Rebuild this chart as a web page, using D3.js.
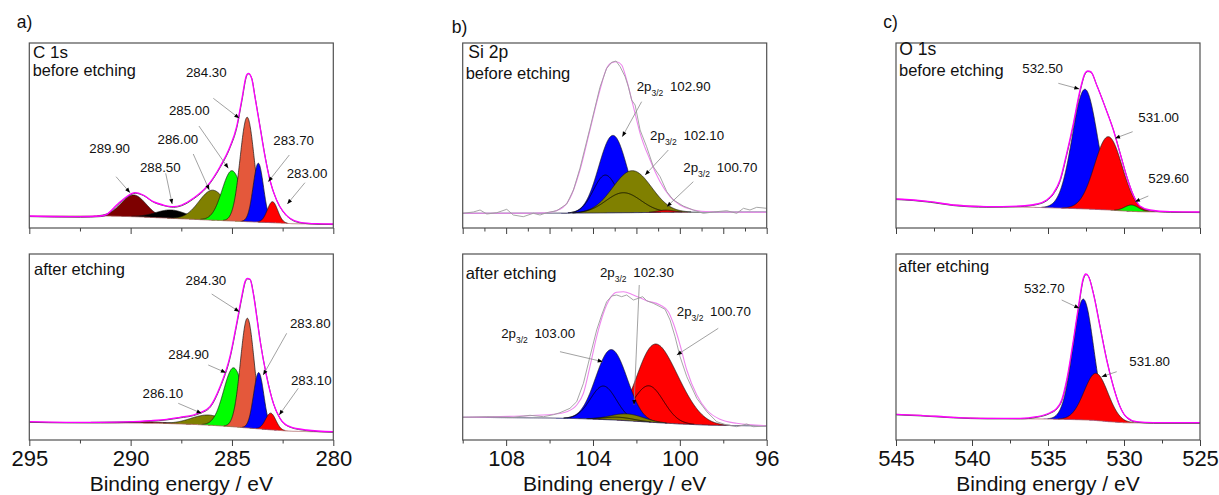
<!DOCTYPE html>
<html><head><meta charset="utf-8">
<script src="https://cdn.jsdelivr.net/npm/d3@7"></script>
<style>
html,body{margin:0;padding:0;background:#fff;}
svg{display:block;}
</style></head><body>
<svg id="chart" width="1219" height="495"></svg>
<script>
// ======================= DATA =======================
// ---- C 1s, before etching (binding energy eV, intensity a.u.)
const c1sBeforeEnvelope = [[295.0,12.0],[292.5,11.3],[291.51,12.0],[291.18,13.7],[290.69,23.0],[290.20,31.3],[289.79,35.3],[289.38,33.0],[288.88,26.3],[288.39,23.0],[287.89,21.3],[287.48,23.0],[286.91,29.7],[286.25,41.3],[285.59,61.3],[285.10,81.3],[284.77,101.3],[284.52,128.0],[284.28,153.0],[284.19,154.7],[284.03,149.7],[283.87,131.3],[283.62,101.3],[283.37,71.3],[283.13,48.0],[282.80,28.0],[282.47,16.3],[282.14,9.7],[281.64,5.7],[280.82,4.3],[280.0,4.0]];
const c1sBeforeBackground = [[295,12.0],[291.2,12.0],[289.8,11.3],[288.0,9.7],[286.5,8.3],[285.0,7.0],[284.2,6.3],[283.0,5.3],[282.0,4.3],[280.0,4.0]];
const c1sBeforeCenters = [289.85, 288.0, 285.95, 285.0, 284.25, 283.7, 283.0];
const c1sBeforeAmps    = [21.7, 8.3, 30.0, 50.3, 104.4, 58.9, 21.0];
const c1sBeforeFwhm    = [1.45, 1.8, 1.6, 1.15, 0.82, 0.6, 0.6];
const c1sBeforeLabels  = ["289.90","288.50","286.00","285.00","284.30","283.70","283.00"];

// ---- C 1s, after etching
const c1sAfterEnvelope = [[295.0,18.3],[293.16,17.7],[291.51,17.7],[289.87,18.3],[289.05,19.3],[288.22,20.7],[287.57,22.7],[286.91,25.0],[286.58,27.3],[286.09,33.3],[285.59,53.3],[285.10,83.3],[284.77,116.7],[284.52,143.3],[284.36,158.3],[284.24,161.7],[284.11,160.7],[283.95,146.7],[283.78,123.3],[283.62,100.0],[283.29,63.3],[282.96,36.7],[282.63,21.7],[282.14,13.3],[281.32,10.0],[280.0,8.3]];
const c1sAfterBackground = [[295,17.7],[291.5,17.3],[288.5,16.7],[287,15.7],[286,14.7],[285,13.3],[284.2,12.0],[283.6,11.0],[283.0,10.0],[282.0,8.7],[281,8.3],[280,8.0]];
const c1sAfterCenters = [289.5, 286.15, 284.92, 284.24, 283.68, 283.09];
const c1sAfterAmps    = [1.2, 10.1, 59.0, 109.7, 56.3, 16.7];
const c1sAfterFwhm    = [3.5, 2.0, 1.15, 0.8, 0.6, 0.6];
const c1sAfterLabels  = ["286.10","284.90","284.30","283.80","283.10"];

// ---- Si 2p, before etching
const si2pBeforeEnvelope = [[110.0,14.7],[107.36,14.7],[106.13,15.3],[105.52,18.7],[105.06,29.7],[104.60,58.0],[104.14,98.0],[103.68,138.0],[103.37,159.7],[103.14,165.3],[102.91,166.3],[102.68,163.0],[102.45,148.0],[102.14,121.3],[101.83,94.7],[101.37,68.0],[100.91,46.3],[100.45,31.3],[99.99,23.0],[99.38,18.0],[98.61,16.3],[96.0,15.7]];
const si2pBeforeRaw = [[110.00,14.7],[109.51,16.0],[109.20,18.0],[108.89,14.0],[108.43,15.3],[107.97,18.7],[107.67,13.0],[107.21,11.3],[106.75,14.7],[106.44,13.0],[106.13,15.3],[105.67,17.3],[105.21,24.0],[104.90,38.0],[104.60,59.7],[104.14,99.7],[103.68,140.7],[103.37,159.7],[103.14,165.7],[102.94,167.0],[102.75,161.3],[102.52,151.3],[102.37,141.3],[102.22,128.0],[102.06,123.0],[101.83,98.0],[101.53,81.3],[101.22,61.3],[100.91,51.3],[100.60,36.3],[100.30,28.0],[99.84,22.0],[99.38,18.0],[98.92,14.7],[98.46,16.0],[97.84,17.3],[97.38,14.7],[97.07,19.7],[96.77,18.0],[96.46,20.7],[96.00,19.7]];
const si2pBeforeBackground = [[110,14.7],[104.5,14.9],[103,15.2],[101.5,15.5],[100,15.8],[96,16.0]];
const si2pBeforeCenters32 = [102.85, 101.9, 100.66];
const si2pBeforeAmps32    = [50.7, 26.0, 2.2];
const si2pBeforeFwhm32    = [1.3, 1.9, 0.9];
const si2pBeforeCenters12 = [103.43, 102.6, 101.26];
const si2pBeforeAmps12    = [37.8, 20.0, 0];
const si2pBeforeFwhm12    = [1.3, 1.9, 0.9];
const si2pBeforeLabels    = ["102.90","102.10","100.70"];

// ---- Si 2p, after etching
const si2pAfterEnvelope = [[110.0,22.7],[107.36,24.0],[105.82,25.7],[105.21,28.3],[104.75,35.0],[104.44,46.7],[104.14,73.3],[103.83,103.3],[103.52,126.7],[103.21,141.7],[102.91,147.7],[102.60,148.3],[102.14,145.0],[101.53,139.3],[100.91,135.0],[100.53,128.3],[100.30,116.7],[99.99,95.0],[99.68,70.0],[99.22,45.0],[98.76,30.0],[98.15,20.7],[97.38,16.7],[96.0,14.3]];
const si2pAfterRaw = [[110.0,22.7],[108.89,23.3],[107.67,22.7],[106.90,24.7],[106.28,23.3],[105.82,25.3],[105.52,27.3],[105.06,31.7],[104.75,38.3],[104.44,56.7],[104.14,83.3],[103.83,110.0],[103.60,125.0],[103.37,138.3],[103.14,144.0],[102.91,145.0],[102.68,143.3],[102.45,145.0],[102.14,140.0],[101.91,141.7],[101.71,143.3],[101.53,139.3],[101.22,136.7],[100.91,133.3],[100.68,130.7],[100.45,120.0],[100.22,103.3],[99.99,83.3],[99.68,63.3],[99.22,41.7],[98.76,28.3],[98.30,18.3],[97.84,15.0],[97.38,13.3],[96.92,16.0],[96.61,13.3],[96.0,14.0]];
const si2pAfterBackground = [[110,22.7],[106,22.0],[104.5,21.3],[103,20.0],[102,18.7],[101,17.3],[100,16.0],[98.5,14.7],[96,14.0]];
const si2pAfterCenters32 = [100.66, 102.88, 102.2];
const si2pAfterAmps32    = [51.7, 46.7, 4.5];
const si2pAfterFwhm32    = [2.2, 1.5, 1.6];
const si2pAfterCenters12 = [101.43, 103.52, 102.8];
const si2pAfterAmps12    = [36.3, 33.5, 3.0];
const si2pAfterFwhm12    = [1.6, 1.4, 1.6];
const si2pAfterLabels    = ["103.00","102.30","100.70"];

// ---- O 1s, before etching
const o1sBeforeEnvelope = [[545.0,29.0],[543.86,28.0],[542.76,26.3],[541.23,23.0],[539.04,21.3],[536.84,22.0],[535.75,24.0],[535.09,28.0],[534.65,34.7],[534.21,48.0],[533.77,74.7],[533.33,104.7],[532.89,138.0],[532.57,154.7],[532.39,157.0],[532.19,156.3],[531.80,143.0],[531.25,121.3],[530.70,98.0],[530.26,74.7],[529.82,51.3],[529.39,33.0],[528.95,22.0],[528.29,18.0],[526.97,16.3],[525.0,16.0]];
const o1sBeforeBackground = [[545,29],[543.9,28],[542.8,26.3],[541.2,23],[539,21.3],[537,21.0],[535,20.3],[533,19.3],[532,18.7],[531,18.0],[530,17.0],[529,16.3],[527,16.0],[525,16.0]];
const o1sBeforeCenters = [532.57, 531.03, 529.5];
const o1sBeforeAmps    = [119.7, 73.3, 6.3];
const o1sBeforeFwhm    = [1.95, 2.15, 1.1];
const o1sBeforeLabels  = ["532.50","531.00","529.60"];

// ---- O 1s, after etching
const o1sAfterEnvelope = [[545.0,25.7],[543.42,24.7],[541.23,22.7],[539.04,21.7],[536.84,21.7],[535.75,23.3],[534.87,27.3],[534.43,31.7],[534.10,40.0],[533.77,60.0],[533.33,100.0],[533.00,133.3],[532.68,161.7],[532.52,166.0],[532.35,164.0],[532.02,146.7],[531.58,113.3],[531.14,80.0],[530.70,53.3],[530.26,33.3],[529.82,22.7],[529.17,18.3],[528.07,17.3],[525.0,17.3]];
const o1sAfterBackground = [[545,25.7],[543.4,24.7],[541.2,22.7],[539,21.7],[536.8,21.3],[535,21.0],[533,20.3],[532,19.7],[531,18.3],[530,17.3],[528,17.0],[525,17.0]];
const o1sAfterCenters = [532.68, 531.84];
const o1sAfterAmps    = [120.8, 47.2];
const o1sAfterFwhm    = [1.6, 1.85];
const o1sAfterLabels  = ["532.70","531.80"];

// ---- axis ticks
const c1sMajorTicks = [295, 290, 285, 280];
const c1sMinorTicks = [292.5, 287.5, 282.5];
const siTopMajorTicks = [110, 108, 106, 104, 102, 100, 98, 96];
const siTopMinorTicks = [109, 107, 105, 103, 101, 99, 97];
const siBotMajorTicks = [108, 104, 100, 96];
const siBotMinorTicks = [110, 106, 102, 98];
const o1sMajorTicks = [545, 540, 535, 530, 525];
const o1sMinorTicks = [542.5, 537.5, 532.5, 527.5];

// ======================= ANNOTATION PLACEMENT (data units) =======================
const c1sBeforeLabelAt = [[292.04,75.3],[289.54,56.3],[288.67,84],[288.11,113],[287.27,151.3],[282.96,83],[282.30,49.7]];
const c1sBeforeArrows = [[[290.72,51.3],[290.03,35.3]],[[288.27,54.7],[287.95,24]],[[286.91,74],[286.12,38]],[[286.63,102],[285.18,59.7]],[[285.92,129.7],[284.64,109.7]],[[282.17,73],[283.21,46.3]],[[281.40,45.3],[282.27,24]]];
const c1sAfterLabelAt = [[289.41,41.7],[288.14,80.7],[287.29,155],[282.14,111.7],[282.09,55]];
const c1sAfterArrows = [[[287.65,36.7],[286.50,26.7]],[[286.17,75],[285.30,67.3]],[[286.0,146],[284.64,128.3]],[[282.30,106.7],[283.46,65]],[[281.73,51.7],[282.67,25]]];
const si2pBeforeLabelAt = [[101.99,137.3],[101.37,88],[99.84,56.3]];
const si2pBeforeArrows = [[[101.76,126.3],[102.65,91.3]],[[100.53,78],[101.60,53]],[[99.38,46.3],[100.60,21.3]]];
const si2pAfterLabelAt = [[108.23,101.7],[103.68,163.3],[100.14,124]];
const si2pAfterArrows = [[[105.52,88.3],[103.55,78.3]],[[101.87,155],[102.11,35]],[[98.23,111.7],[100.14,85]]];
const o1sBeforeLabelAt = [[536.69,155.3],[529.06,106.3],[528.40,45.3]];
const o1sBeforeArrows = [[[534.32,144.7],[532.94,139]],[[529.43,96.3],[530.59,89.7]],[[528.40,32],[529.28,26.3]]];
const o1sAfterLabelAt = [[536.58,146.7],[529.65,74]];
const o1sAfterArrows = [[[534.10,140],[532.94,131.7]],[[530.48,68.3],[531.47,63.3]]];

// ======================= STYLE / LAYOUT =======================
const FONT = "'Liberation Sans', Arial, Helvetica, sans-serif";
const C = {maroon:"#7d0000", black:"#000000", olive:"#808000", green:"#00ff00", orange:"#e4583b", blue:"#0000ff", red:"#ff0000"};
const c1sBeforeColors = [C.maroon, C.black, C.olive, C.green, C.orange, C.blue, C.red];
const c1sAfterColors  = [C.maroon, C.olive, C.green, C.orange, C.blue, C.red];
const si2pBeforeColors = [C.blue, C.olive, C.red];
const si2pAfterColors  = [C.red, C.blue, C.olive];
const o1sBeforeColors = [C.blue, C.red, C.green];
const o1sAfterColors  = [C.blue, C.red];

const cols = [{x0:29.3, x1:333.3, dom:[295,280]}, {x0:462.7, x1:766.7, dom:[110,96]}, {x0:896, x1:1200, dom:[545,525]}];
const rows = [{y0:43, y1:228, ymax:185}, {y0:254, y1:440, ymax:186}];

const svg = d3.select("#chart").attr("font-family", FONT);
const defs = svg.append("defs");
defs.append("marker").attr("id","ah").attr("viewBox","0 0 10 10").attr("refX",10).attr("refY",5)
  .attr("markerWidth",6).attr("markerHeight",5).attr("markerUnits","userSpaceOnUse").attr("orient","auto")
  .append("path").attr("d","M0,1 L10,5 L0,9 Z").attr("fill","#000");

const gauss = (E, c, a, w) => a * Math.exp(-4 * Math.LN2 * ((E - c) / w) ** 2);
function bgFn(pts){
  const s = pts.slice().sort((p,q)=>p[0]-q[0]);
  return d3.scaleLinear().domain(s.map(p=>p[0])).range(s.map(p=>p[1])).clamp(true);
}

let clipId = 0;
function panel(spec){
  const col = cols[spec.col], row = rows[spec.row];
  const x = d3.scaleLinear().domain(col.dom).range([col.x0, col.x1]);
  const y = d3.scaleLinear().domain([0, row.ymax]).range([row.y1, row.y0]);
  const g = svg.append("g");
  const cid = "clip" + (clipId++);
  defs.append("clipPath").attr("id", cid).append("rect")
    .attr("x", col.x0).attr("y", row.y0).attr("width", col.x1 - col.x0).attr("height", row.y1 - row.y0);
  const pg = g.append("g").attr("clip-path", `url(#${cid})`);
  const bg = bgFn(spec.bg);
  const Emax = Math.max(...col.dom), Emin = Math.min(...col.dom);
  const Es = d3.range(0, 1501).map(i => Emax - (Emax - Emin) * i / 1500);

  // components
  spec.comps.forEach(cp => {
    const pts = Es.map(E => ({E, v: cp.f(E)})).filter(p => p.v > 0.04);
    if (!pts.length) return;
    pg.append("path").datum(pts)
      .attr("d", d3.area().x(p => x(p.E)).y0(p => y(bg(p.E))).y1(p => y(bg(p.E) + p.v)))
      .attr("fill", cp.color);
    pg.append("path").datum(pts.filter(p => p.v > 0.3))
      .attr("d", d3.line().x(p => x(p.E)).y(p => y(bg(p.E) + p.v)))
      .attr("fill", "none").attr("stroke", "#151515").attr("stroke-width", 0.7);
    if (cp.line) {
      const lp = Es.map(E => ({E, v: cp.line(E)})).filter(p => p.v > 0.3);
      if (lp.length) pg.append("path").datum(lp)
        .attr("d", d3.line().x(p => x(p.E)).y(p => y(bg(p.E) + p.v)))
        .attr("fill", "none").attr("stroke", "#000").attr("stroke-width", 0.8);
    }
  });
  // background line
  pg.append("path").datum(Es)
    .attr("d", d3.line().x(E => x(E)).y(E => y(bg(E))))
    .attr("fill","none").attr("stroke", spec.bgColor).attr("stroke-width", 0.9);

  const sortPts = a => a.slice().sort((p,q)=>x(p[0]) - x(q[0]));
  const envLine = d3.line().x(p => x(p[0])).y(p => y(p[1])).curve(d3.curveMonotoneX);
  if (spec.raw) {
    pg.append("path").datum(sortPts(spec.env)).attr("d", envLine)
      .attr("fill","none").attr("stroke","#ee86ee").attr("stroke-width",1.1);
    pg.append("path").datum(sortPts(spec.raw))
      .attr("d", d3.line().x(p => x(p[0])).y(p => y(p[1])))
      .attr("fill","none").attr("stroke","#9c9c9c").attr("stroke-width",0.9);
  } else {
    pg.append("path").datum(sortPts(spec.env)).attr("d", envLine)
      .attr("fill","none").attr("stroke","#4a3a4a").attr("stroke-width",0.9)
      .attr("transform","translate(0.3,0.6)");
    pg.append("path").datum(sortPts(spec.env)).attr("d", envLine)
      .attr("fill","none").attr("stroke","#ff00ff").attr("stroke-width",1.3);
  }

  // annotations
  spec.arrows.forEach(a => {
    g.append("line").attr("x1", x(a[0][0])).attr("y1", y(a[0][1]))
      .attr("x2", x(a[1][0])).attr("y2", y(a[1][1]))
      .attr("stroke","#8a8a8a").attr("stroke-width",0.8).attr("marker-end","url(#ah)");
  });
  spec.labels.forEach((t, i) => {
    const p = spec.labelAt[i];
    const tx = g.append("text").attr("x", x(p[0])).attr("y", y(p[1]))
      .attr("font-size", 13.3).attr("fill","#111");
    if (spec.sub) {
      tx.append("tspan").text("2p");
      tx.append("tspan").attr("font-size", 8.5).attr("dy", 5).text("3/2");
      tx.append("tspan").attr("dy", -5).attr("dx", 3).text(" " + t);
    } else tx.text(t);
  });

  // frame
  g.append("rect").attr("x", col.x0).attr("y", row.y0).attr("width", col.x1 - col.x0).attr("height", row.y1 - row.y0)
    .attr("fill","none").attr("stroke","#505050").attr("stroke-width",1.2);

  // ticks
  const ax = g.append("g").attr("transform", `translate(0,${row.y1})`);
  const minorAx = d3.axisBottom(x).tickValues(spec.minor).tickSize(3.5).tickFormat("");
  const majorAx = d3.axisBottom(x).tickValues(spec.major).tickSize(6).tickPadding(4.4)
    .tickFormat(spec.row === 1 ? d3.format("d") : "");
  ax.append("g").call(minorAx);
  ax.append("g").call(majorAx);
  ax.selectAll(".domain").remove();
  ax.selectAll("line").attr("stroke","#404040").attr("stroke-width",1);
  ax.selectAll("text").attr("font-size", 22).attr("font-family", FONT).attr("fill","#111");

  if (spec.row === 1) {
    g.append("text").attr("x", (col.x0 + col.x1) / 2).attr("y", 490.5).attr("text-anchor","middle")
      .attr("font-size", 21).attr("fill","#111").text("Binding energy / eV");
  }
  // titles
  spec.texts.forEach(t => {
    g.append("text").attr("x", col.x0 + t.dx).attr("y", t.y).attr("font-size", t.size)
      .attr("fill","#111").text(t.s);
  });
}

function singles(centers, amps, fwhm, colors){
  return centers.map((c, i) => ({color: colors[i], f: E => gauss(E, c, amps[i], fwhm[i])}));
}
function doublets(c32, a32, w32, c12, a12, w12, colors){
  return c32.map((c, i) => ({
    color: colors[i],
    f: E => gauss(E, c, a32[i], w32[i]) + gauss(E, c12[i], a12[i], w12[i]),
    line: a12[i] > 0 ? (E => gauss(E, c12[i], a12[i], w12[i])) : null
  }));
}

const BGC = "#b06a6a";
panel({col:0,row:0, env:c1sBeforeEnvelope, bg:c1sBeforeBackground, bgColor:BGC,
  comps: singles(c1sBeforeCenters, c1sBeforeAmps, c1sBeforeFwhm, c1sBeforeColors),
  labels:c1sBeforeLabels, labelAt:c1sBeforeLabelAt, arrows:c1sBeforeArrows,
  major:c1sMajorTicks, minor:c1sMinorTicks,
  texts:[{s:"C 1s", dx:3.7, y:58, size:17},{s:"before etching", dx:3.4, y:75.5, size:16.3}]});
panel({col:0,row:1, env:c1sAfterEnvelope, bg:c1sAfterBackground, bgColor:BGC,
  comps: singles(c1sAfterCenters, c1sAfterAmps, c1sAfterFwhm, c1sAfterColors),
  labels:c1sAfterLabels, labelAt:c1sAfterLabelAt, arrows:c1sAfterArrows,
  major:c1sMajorTicks, minor:c1sMinorTicks,
  texts:[{s:"after etching", dx:4.7, y:275, size:16.5}]});
panel({col:1,row:0, env:si2pBeforeEnvelope, raw:si2pBeforeRaw, bg:si2pBeforeBackground, bgColor:"#2a2a55",
  comps: doublets(si2pBeforeCenters32, si2pBeforeAmps32, si2pBeforeFwhm32, si2pBeforeCenters12, si2pBeforeAmps12, si2pBeforeFwhm12, si2pBeforeColors),
  labels:si2pBeforeLabels, labelAt:si2pBeforeLabelAt, arrows:si2pBeforeArrows, sub:true,
  major:siTopMajorTicks, minor:siTopMinorTicks,
  texts:[{s:"Si 2p", dx:5.6, y:58.3, size:17.5},{s:"before etching", dx:3, y:79, size:16.5}]});
panel({col:1,row:1, env:si2pAfterEnvelope, raw:si2pAfterRaw, bg:si2pAfterBackground, bgColor:"#2a2a55",
  comps: doublets(si2pAfterCenters32, si2pAfterAmps32, si2pAfterFwhm32, si2pAfterCenters12, si2pAfterAmps12, si2pAfterFwhm12, si2pAfterColors),
  labels:si2pAfterLabels, labelAt:si2pAfterLabelAt, arrows:si2pAfterArrows, sub:true,
  major:siBotMajorTicks, minor:siBotMinorTicks,
  texts:[{s:"after etching", dx:3, y:279.3, size:16.5}]});
panel({col:2,row:0, env:o1sBeforeEnvelope, bg:o1sBeforeBackground, bgColor:BGC,
  comps: singles(o1sBeforeCenters, o1sBeforeAmps, o1sBeforeFwhm, o1sBeforeColors),
  labels:o1sBeforeLabels, labelAt:o1sBeforeLabelAt, arrows:o1sBeforeArrows,
  major:o1sMajorTicks, minor:o1sMinorTicks,
  texts:[{s:"O 1s", dx:3.3, y:55, size:17.5},{s:"before etching", dx:3, y:76, size:16.5}]});
panel({col:2,row:1, env:o1sAfterEnvelope, bg:o1sAfterBackground, bgColor:BGC,
  comps: singles(o1sAfterCenters, o1sAfterAmps, o1sAfterFwhm, o1sAfterColors),
  labels:o1sAfterLabels, labelAt:o1sAfterLabelAt, arrows:o1sAfterArrows,
  major:o1sMajorTicks, minor:o1sMinorTicks,
  texts:[{s:"after etching", dx:2.3, y:271.7, size:16.5}]});

// panel letters
[["a)",16.7,27.7],["b)",451.7,33.3],["c)",883.3,28.3]].forEach(d => {
  svg.append("text").attr("x", d[1]).attr("y", d[2]).attr("font-size", 17.5).attr("fill","#111").text(d[0]);
});
</script>
</body></html>
